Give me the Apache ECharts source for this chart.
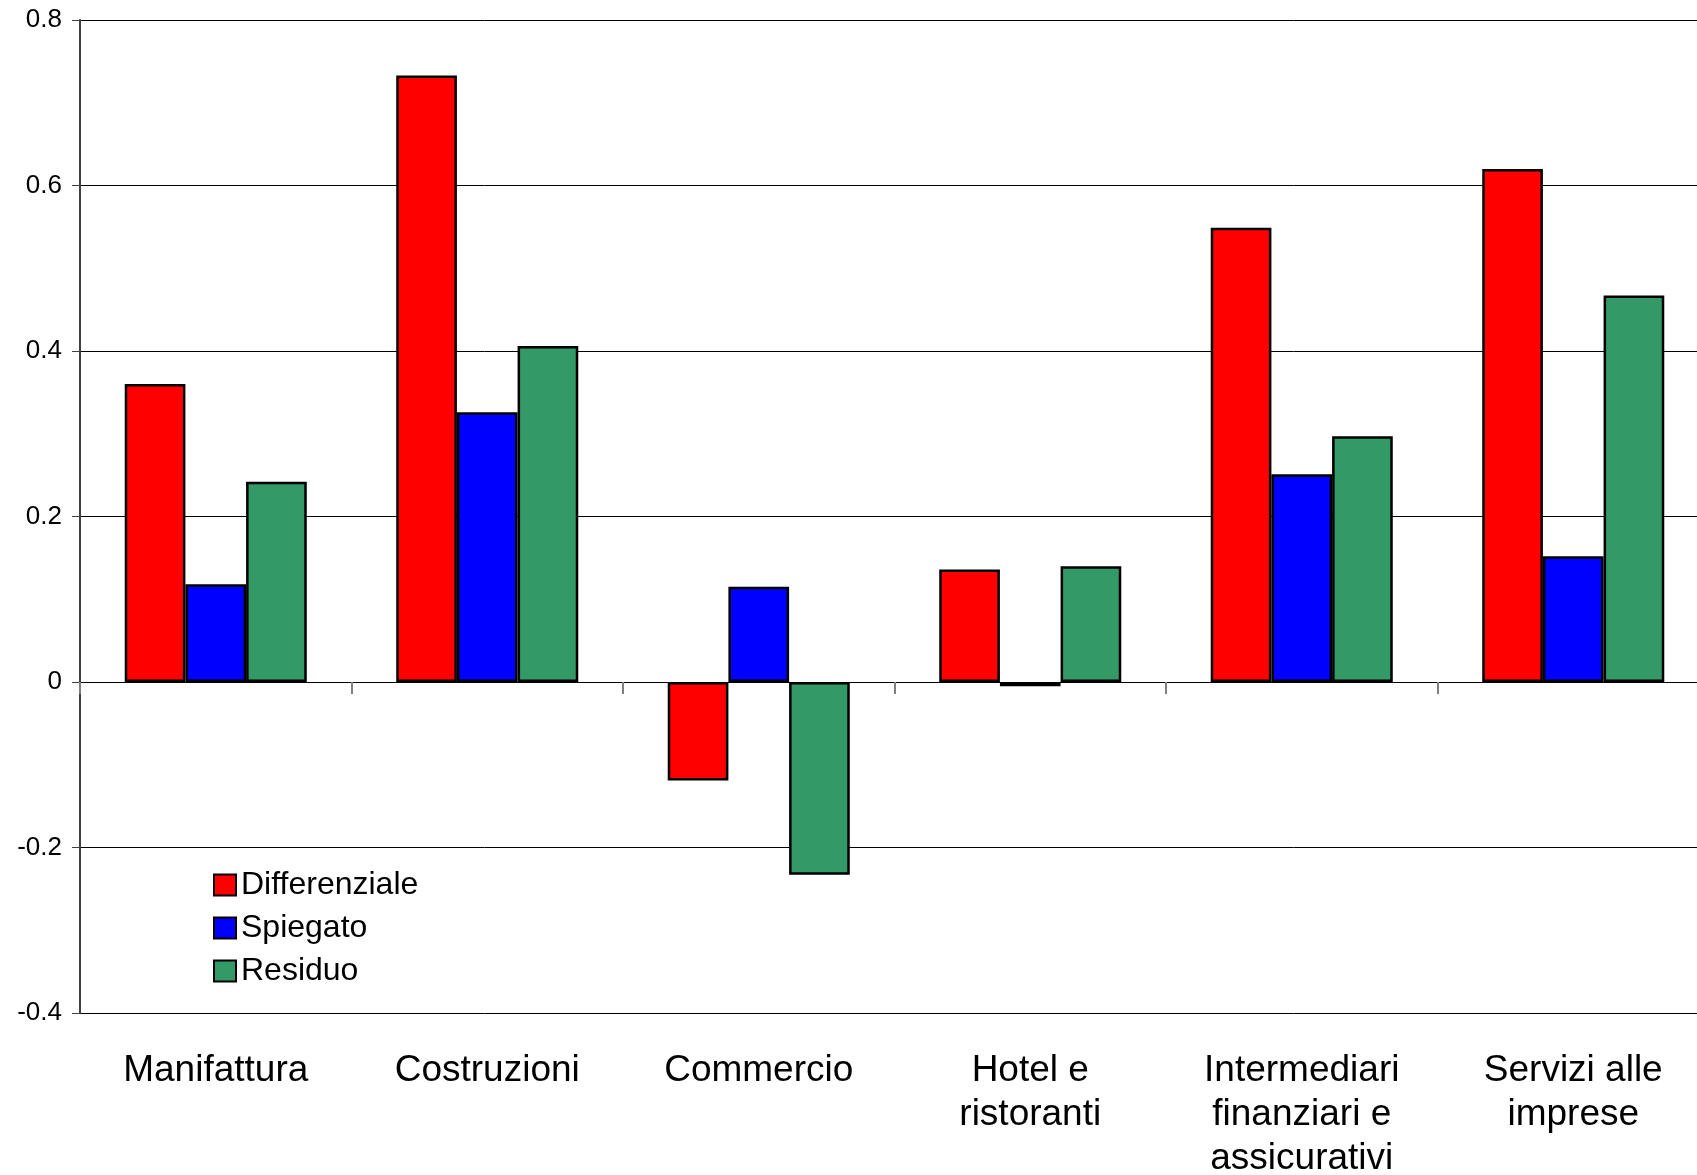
<!DOCTYPE html>
<html>
<head>
<meta charset="utf-8">
<script src="https://cdn.jsdelivr.net/npm/echarts@6/dist/echarts.min.js"></script>
<style>
html,body{margin:0;padding:0;background:#fff;}
#chart{width:1697px;height:1175px;}
</style>
</head>
<body>
<div id="chart"></div>
<script>
const categories = ['Manifattura', 'Costruzioni', 'Commercio', 'Hotel e\nristoranti', 'Intermediari\nfinanziari e\nassicurativi', 'Servizi alle\nimprese'];
const seriesNames = ['Differenziale', 'Spiegato', 'Residuo'];
const differenziale = [0.360, 0.733, -0.119, 0.136, 0.549, 0.620];
const spiegato = [0.118, 0.326, 0.115, -0.005, 0.251, 0.152];
const residuo = [0.242, 0.406, -0.233, 0.140, 0.297, 0.467];
const colors = ['#FF0000', '#0000FF', '#339966'];
const yMin = -0.4, yMax = 0.8, yStep = 0.2;

const font = '"Liberation Sans", Arial, sans-serif';
const chart = echarts.init(document.getElementById('chart'), null, {renderer: 'canvas'});
const values = [differenziale, spiegato, residuo];

chart.setOption({
  animation: false,
  backgroundColor: '#ffffff',
  grid: {left: 80, width: 1629, top: 20, height: 993, containLabel: false, outerBoundsMode: 'none'},
  legend: {
    orient: 'vertical',
    left: 213,
    top: 869,
    padding: 0,
    icon: 'rect',
    itemWidth: 22,
    itemHeight: 21,
    itemGap: 11,
    data: seriesNames,
    textStyle: {fontFamily: font, fontSize: 32, color: '#000', lineHeight: 32}
  },
  xAxis: [
    {
      type: 'category',
      data: categories,
      axisLine: {onZero: true, lineStyle: {color: '#000', width: 1}},
      axisTick: {show: true, length: 12, lineStyle: {color: '#808080', width: 2}},
      axisLabel: {show: false}
    },
    {
      type: 'category',
      data: categories,
      position: 'bottom',
      axisLine: {show: false, onZero: false},
      axisTick: {show: false},
      axisLabel: {
        show: true, interval: 0, margin: 36,
        fontFamily: font, fontSize: 37, color: '#000', lineHeight: 44, align: 'center'
      }
    }
  ],
  yAxis: {
    type: 'value',
    min: yMin, max: yMax, interval: yStep,
    axisLine: {show: true, lineStyle: {color: '#404040', width: 2}},
    axisTick: {show: true, length: 8, inside: false, lineStyle: {color: '#404040', width: 1}},
    splitLine: {show: true, lineStyle: {color: '#000', width: 1}},
    axisLabel: {
      margin: 18, fontFamily: font, fontSize: 26, color: '#000',
      formatter: v => (Math.abs(v) < 1e-9 ? '0' : String(Math.round(v * 10) / 10))
    }
  },
  series: seriesNames.map((name, i) => ({
    name: name,
    type: 'bar',
    xAxisIndex: 0,
    data: values[i],
    barWidth: '22.35%',
    barGap: '0%',
    itemStyle: {color: colors[i], borderColor: '#000', borderWidth: 2.5}
  }))
});
</script>
</body>
</html>
